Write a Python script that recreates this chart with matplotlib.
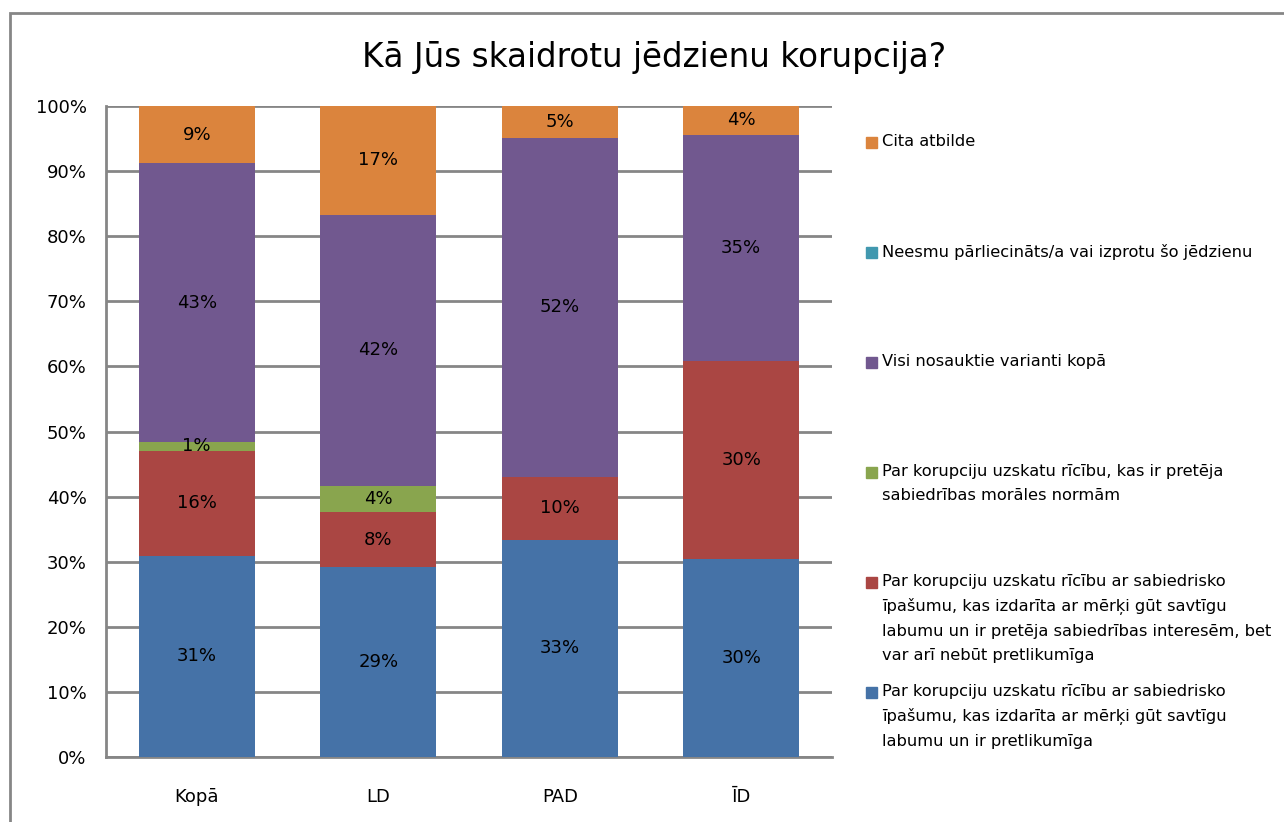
import matplotlib
matplotlib.use("Agg")
import matplotlib.pyplot as plt
from matplotlib.patches import Rectangle
import numpy as np

categories = ["Kopā", "LD", "PAD", "ĪD"]
series_labels = [
    "Par korupciju uzskatu rīcību ar sabiedrisko\nīpašumu, kas izdarīta ar mērķi gūt savtīgu\nlabumu un ir pretlikumīga",
    "Par korupciju uzskatu rīcību ar sabiedrisko\nīpašumu, kas izdarīta ar mērķi gūt savtīgu\nlabumu un ir pretēja sabiedrības interesēm, bet\nvar arī nebūt pretlikumīga",
    "Par korupciju uzskatu rīcību, kas ir pretēja\nsabiedrības morāles normām",
    "Visi nosauktie varianti kopā",
    "Neesmu pārliecināts/a vai izprotu šo jēdzienu",
    "Cita atbilde",
]
s_legal = [30.9, 29.2, 33.4, 30.4]
s_interest = [16.1, 8.4, 9.6, 30.5]
s_moral = [1.4, 4.1, 0.0, 0.0]
s_all = [42.8, 41.6, 52.1, 34.7]
s_unsure = [0.0, 0.0, 0.0, 0.0]
s_other = [8.8, 16.7, 4.9, 4.4]
values = [s_legal, s_interest, s_moral, s_all, s_unsure, s_other]
colors = ["#4572A7", "#AA4643", "#89A54E", "#71588F", "#4198AF", "#DB843D"]
title = "Kā Jūs skaidrotu jēdzienu korupcija?"

plt.rcParams['font.family'] = ['DejaVu Sans']
W, H = 1284, 822
fig = plt.figure(figsize=(W / 100, H / 100), dpi=100)
ax = fig.add_axes([106 / W, 1 - 757 / H, (832 - 106) / W, (757 - 106) / H])

x = np.arange(len(categories))
bottom = np.zeros(len(categories))
for vals, col in zip(values, colors):
    vals = np.array(vals)
    bars = ax.bar(x, vals, width=0.64, bottom=bottom, color=col, zorder=3)
    for b, v, bt in zip(bars, vals, bottom):
        if v > 0.5:
            ax.text(b.get_x() + b.get_width() / 2, bt + v / 2, f"{v:.0f}%",
                    ha='center', va='center', fontsize=13, color='black', zorder=4)
    bottom += vals

ax.set_xlim(-0.5, len(categories) - 0.5)
ax.set_ylim(0, 100)
ax.set_yticks(np.arange(0, 101, 10))
ax.set_yticklabels([f"{v}%" for v in range(0, 101, 10)], fontsize=13)
ax.set_xticks(x)
ax.set_xticklabels(categories, fontsize=13)
ax.tick_params(axis='x', length=0, pad=22)
ax.tick_params(axis='y', length=0, pad=14)
ax.grid(axis='y', color='#868686', linewidth=2, zorder=0)
for side in ['top', 'right']:
    ax.spines[side].set_visible(False)
for side in ['left', 'bottom']:
    ax.spines[side].set_color('#868686')
    ax.spines[side].set_linewidth(2)

fig.text(654 / W, 1 - 57 / H, title, ha='center', va='center', fontsize=23.5)

# legend (reverse order, fixed spacing of first lines)
for i, (lab, col) in enumerate(zip(series_labels[::-1], colors[::-1])):
    ytop = 142 + 110 * i
    fig.add_artist(Rectangle((866 / W, 1 - (ytop + 6) / H), 11 / W, 11 / H,
                             transform=fig.transFigure, color=col))
    fig.text(882 / W, 1 - (ytop - 8) / H, lab, ha='left', va='top',
             fontsize=11.7, linespacing=1.72)

# outer chart border
fig.add_artist(Rectangle((10 / W, -0.05), 1.2, 1 - 13 / H + 0.05,
                         transform=fig.transFigure, fill=False,
                         edgecolor='#868686', linewidth=2))

fig.savefig("out.png", dpi=100)
